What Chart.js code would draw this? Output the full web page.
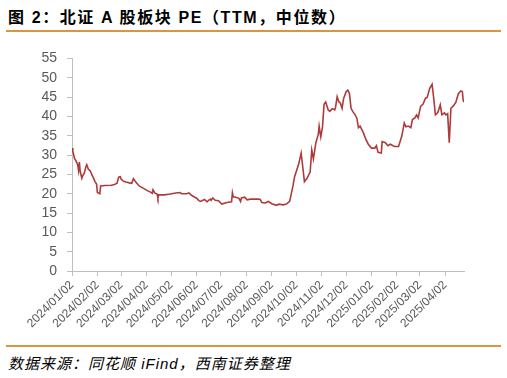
<!DOCTYPE html>
<html>
<head>
<meta charset="utf-8">
<script src="https://cdn.jsdelivr.net/npm/chart.js@4.4.1/dist/chart.umd.min.js"></script>
<style>
  body { margin: 0; width: 507px; height: 378px; background: #fff; position: relative; overflow: hidden; }
  .title { position: absolute; left: 8px; top: 4px; font: bold 16px "Liberation Sans", "Noto Sans CJK SC", sans-serif; letter-spacing: 1.6px; color: #000; }
  .rule { position: absolute; left: 6px; width: 495px; height: 2px; background: #D9953F; }
  .source { position: absolute; left: 8px; top: 352px; font: italic 15px "Liberation Sans", "Noto Sans CJK SC", sans-serif; letter-spacing: 1px; color: #000; }
  .chart-box { position: absolute; left: 0; top: 40px; width: 507px; height: 300px; }
</style>
</head>
<body>
<div class="title">图 2：北证 A 股板块 PE（TTM，中位数）</div>
<div class="rule" style="top:30px"></div>
<div class="chart-box"><canvas id="chart" width="507" height="300"></canvas></div>
<div class="rule" style="top:345px"></div>
<div class="source">数据来源：同花顺 iFind，西南证券整理</div>
<script>
// 北证A股 PE(TTM) 中位数，读图估计
const dates = [
  '2024-01-02','2024-01-03','2024-01-05','2024-01-08','2024-01-09','2024-01-10','2024-01-11','2024-01-12',
  '2024-01-14','2024-01-15','2024-01-17','2024-01-19','2024-01-20','2024-01-22','2024-01-24','2024-01-27',
  '2024-01-30','2024-02-01','2024-02-02','2024-02-05','2024-02-06','2024-02-11','2024-02-19','2024-02-23',
  '2024-02-26','2024-02-28','2024-03-01','2024-03-02','2024-03-05','2024-03-08','2024-03-12','2024-03-15',
  '2024-03-17','2024-03-18','2024-03-20','2024-03-24','2024-03-30','2024-04-03','2024-04-07','2024-04-09',
  '2024-04-10','2024-04-12','2024-04-15','2024-04-16','2024-04-17','2024-04-24','2024-05-01','2024-05-08',
  '2024-05-13','2024-05-15','2024-05-21','2024-05-24','2024-05-27','2024-05-31','2024-06-02','2024-06-05',
  '2024-06-07','2024-06-10','2024-06-12','2024-06-15','2024-06-17','2024-06-19','2024-06-20','2024-06-22',
  '2024-06-25','2024-06-29','2024-07-03','2024-07-07','2024-07-11','2024-07-15','2024-07-16','2024-07-17',
  '2024-07-20','2024-07-24','2024-07-26','2024-07-27','2024-07-31','2024-08-03','2024-08-07','2024-08-17',
  '2024-08-19','2024-08-21','2024-08-25','2024-08-29','2024-09-02','2024-09-08','2024-09-11','2024-09-16',
  '2024-09-20','2024-09-24','2024-09-26','2024-09-28','2024-09-30','2024-10-05','2024-10-08','2024-10-10',
  '2024-10-12','2024-10-15','2024-10-19','2024-10-21','2024-10-23','2024-10-26','2024-10-29','2024-10-30',
  '2024-11-01','2024-11-03','2024-11-05','2024-11-07','2024-11-10','2024-11-12','2024-11-15','2024-11-18',
  '2024-11-19','2024-11-21','2024-11-23','2024-11-25','2024-11-27','2024-11-29','2024-12-02','2024-12-04',
  '2024-12-06','2024-12-08','2024-12-10','2024-12-13','2024-12-15','2024-12-17','2024-12-19','2024-12-23',
  '2024-12-26','2024-12-29','2025-01-02','2025-01-06','2025-01-08','2025-01-10','2025-01-14','2025-01-15',
  '2025-01-19','2025-01-22','2025-01-25','2025-01-30','2025-02-04','2025-02-08','2025-02-11','2025-02-13',
  '2025-02-16','2025-02-19','2025-02-21','2025-02-24','2025-02-26','2025-02-28','2025-03-03','2025-03-06',
  '2025-03-09','2025-03-11','2025-03-14','2025-03-17','2025-03-19','2025-03-21','2025-03-24','2025-03-27',
  '2025-03-29','2025-04-01','2025-04-03','2025-04-05','2025-04-07','2025-04-09','2025-04-12','2025-04-15',
  '2025-04-18','2025-04-21','2025-04-23','2025-04-24','2025-04-25'
];
const peValues = [
  31.8, 31.0, 29.2, 28.0, 27.4, 26.0, 28.2, 25.8,
  24.0, 24.6, 25.3, 27.0, 27.5, 26.3, 26.0, 24.6,
  23.2, 22.5, 20.3, 20.0, 22.0, 22.1, 22.2, 22.4,
  22.7, 24.3, 24.4, 23.8, 23.2, 23.0, 22.8, 22.7,
  23.9, 23.6, 23.0, 22.0, 21.3, 20.8, 20.4, 20.1,
  21.0, 20.2, 19.9, 18.9, 19.7, 19.7, 19.9, 20.2,
  20.3, 20.0, 20.0, 20.2, 19.6, 19.1, 18.9, 18.2,
  18.0, 18.3, 18.5, 17.9, 18.3, 18.6, 18.3, 18.9,
  18.3, 18.2, 17.3, 17.6, 17.8, 17.9, 20.2, 19.2,
  19.1, 18.8, 18.0, 18.9, 19.1, 18.4, 18.6, 18.6,
  18.5, 17.7, 17.6, 18.0, 17.4, 17.0, 17.3, 17.1,
  17.3, 18.0, 20.0, 22.0, 24.4, 27.7, 30.5, 26.9,
  23.1, 23.9, 25.6, 31.3, 29.0, 33.2, 35.4, 37.5,
  34.7, 37.1, 43.1, 43.7, 41.7, 41.3, 42.0, 41.7,
  42.3, 45.1, 43.8, 43.4, 42.1, 44.7, 46.4, 46.8,
  45.9, 42.1, 41.3, 40.4, 39.6, 37.1, 37.5, 35.8,
  34.1, 32.8, 31.8, 31.8, 32.4, 30.7, 30.5, 33.5,
  33.2, 32.4, 32.8, 32.2, 32.2, 34.9, 38.3, 37.3,
  37.5, 37.1, 39.2, 39.6, 40.4, 39.6, 42.6, 43.2,
  44.7, 44.9, 47.2, 48.3, 44.7, 40.4, 41.0, 43.0,
  40.4, 40.9, 40.4, 40.7, 33.2, 42.1, 42.7, 43.6,
  45.8, 46.6, 46.4, 44.1, 43.7
];
const tickLabels = [
  '2024/01/02','2024/02/02','2024/03/02','2024/04/02','2024/05/02','2024/06/02',
  '2024/07/02','2024/08/02','2024/09/02','2024/10/02','2024/11/02','2024/12/02',
  '2025/01/02','2025/02/02','2025/03/02','2025/04/02'
];

const DAY = 86400000;
const start = Date.parse('2024-01-02');
const toDay = (s) => Math.round((Date.parse(s.replace(/\//g, '-')) - start) / DAY);

const points = dates.map((d, i) => ({ x: toDay(d), y: peValues[i] }));
const tickDays = tickLabels.map(toDay);

const axisColor = '#BFBFBF';
const labelColor = '#595959';
const fontFamily = '"Liberation Sans", Arial, sans-serif';

new Chart(document.getElementById('chart'), {
  type: 'line',
  data: {
    datasets: [{
      data: points,
      borderColor: '#AE3B3B',
      borderWidth: 1.6,
      pointRadius: 0,
      tension: 0,
      fill: false,
    }],
  },
  options: {
    responsive: false,
    animation: false,
    layout: { padding: { top: 15, right: 43, left: 0, bottom: 0 } },
    plugins: {
      legend: { display: false },
      tooltip: { enabled: false },
    },
    scales: {
      x: {
        type: 'linear',
        min: 0,
        max: points[points.length - 1].x,
        afterBuildTicks: (scale) => {
          scale.ticks = tickDays.map((v) => ({ value: v }));
        },
        afterFit: (scale) => { scale.height = 69; },
        grid: { display: true, drawOnChartArea: false, drawTicks: true, tickLength: 5, color: axisColor },
        border: { display: true, color: axisColor, width: 1 },
        ticks: {
          autoSkip: false,
          minRotation: 45,
          maxRotation: 45,
          padding: 2,
          color: labelColor,
          font: { family: fontFamily, size: 12 },
          callback: (value, index) => tickLabels[index],
        },
      },
      y: {
        min: 0,
        max: 55,
        afterFit: (scale) => { scale.width = 72; },
        grid: { display: true, drawOnChartArea: false, drawTicks: true, tickLength: 5, color: axisColor },
        border: { display: true, color: axisColor, width: 1 },
        ticks: {
          stepSize: 5,
          autoSkip: false,
          padding: 10,
          color: labelColor,
          font: { family: fontFamily, size: 14 },
        },
      },
    },
  },
});
</script>
</body>
</html>
